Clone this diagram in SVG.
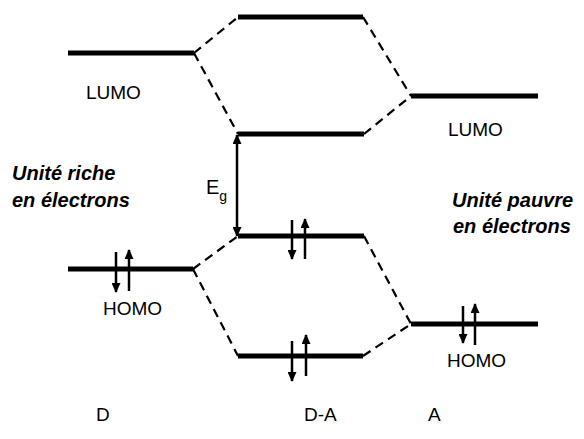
<svg xmlns="http://www.w3.org/2000/svg" width="584" height="439" viewBox="0 0 584 439">
  <defs>
    <marker id="ah" markerUnits="userSpaceOnUse" markerWidth="10" markerHeight="9" viewBox="0 0 10 9" refX="9" refY="4.5" orient="auto-start-reverse">
      <path d="M0,0 L10,4.5 L0,9 z" fill="#000"/>
    </marker>
    <style>
      .lvl { stroke: #000; stroke-width: 5; fill: none; }
      .dash { stroke: #000; stroke-width: 2.2; stroke-dasharray: 9 6; fill: none; }
      .spin { stroke: #000; stroke-width: 2.5; fill: none; marker-end: url(#ah); }
      .lbl { font-family: "Liberation Sans", Arial, sans-serif; font-size: 19px; fill: #000; }
      .unit { font-family: "Liberation Sans", Arial, sans-serif; font-size: 20px; font-weight: bold; font-style: italic; fill: #000; }
    </style>
  </defs>

  <g id="connectors">
    <path class="dash" d="M194,53 L238,17"/>
    <path class="dash" d="M194,53 L238,134"/>
    <path class="dash" d="M363,17 L411,96"/>
    <path class="dash" d="M364,134 L411,96"/>
    <path class="dash" d="M193,269 L238,236"/>
    <path class="dash" d="M193,269 L238,356"/>
    <path class="dash" d="M364,236 L411,324"/>
    <path class="dash" d="M363,356 L411,324"/>
    <path d="M237,236 L237,135" stroke="#000" stroke-width="2.5" fill="none" marker-start="url(#ah)" marker-end="url(#ah)"/>
  </g>

  <g id="D-LUMO">
    <line class="lvl" x1="68" y1="53" x2="194" y2="53"/>
    <text class="lbl" x="86" y="99">LUMO</text>
  </g>
  <g id="DA-LUMO-high">
    <line class="lvl" x1="238" y1="17" x2="363" y2="17"/>
  </g>
  <g id="DA-LUMO-low">
    <line class="lvl" x1="238" y1="134" x2="364" y2="134"/>
  </g>
  <g id="A-LUMO">
    <line class="lvl" x1="411" y1="96" x2="538" y2="96"/>
    <text class="lbl" x="448" y="136">LUMO</text>
  </g>

  <g id="Eg">
    <text class="lbl" x="206" y="194" style="font-size:20px">E<tspan dy="7" style="font-size:14px">g</tspan></text>
  </g>

  <g id="D-HOMO">
    <line class="lvl" x1="68" y1="269" x2="193" y2="269"/>
    <path class="spin" d="M116,252 L116,292"/>
    <path class="spin" d="M129,291 L129,250"/>
    <text class="lbl" x="103" y="315">HOMO</text>
  </g>
  <g id="DA-HOMO-high">
    <line class="lvl" x1="238" y1="236" x2="364" y2="236"/>
    <path class="spin" d="M292,220 L292,259"/>
    <path class="spin" d="M305,259 L305,219"/>
  </g>
  <g id="DA-HOMO-low">
    <line class="lvl" x1="238" y1="356" x2="363" y2="356"/>
    <path class="spin" d="M292,341 L292,381"/>
    <path class="spin" d="M306,376 L306,335"/>
  </g>
  <g id="A-HOMO">
    <line class="lvl" x1="411" y1="324" x2="538" y2="324"/>
    <path class="spin" d="M463,306 L463,343"/>
    <path class="spin" d="M475,345 L475,304"/>
    <text class="lbl" x="447" y="367">HOMO</text>
  </g>

  <g id="donor-unit">
    <text class="unit" x="12" y="180">Unité riche</text>
    <text class="unit" x="12" y="207">en électrons</text>
  </g>
  <g id="acceptor-unit">
    <text class="unit" x="452" y="207">Unité pauvre</text>
    <text class="unit" x="453" y="233">en électrons</text>
  </g>

  <g id="axis-labels">
    <text class="lbl" x="96" y="421">D</text>
    <text class="lbl" x="304" y="421">D-A</text>
    <text class="lbl" x="428" y="421">A</text>
  </g>
</svg>
